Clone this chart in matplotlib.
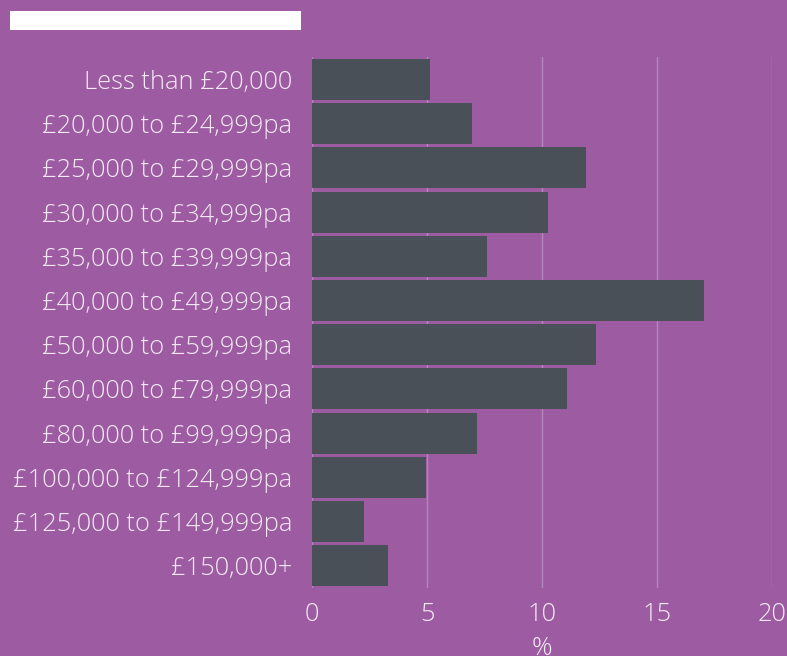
import matplotlib
matplotlib.use("Agg")
import matplotlib.pyplot as plt
from matplotlib.patches import Rectangle

categories = [
    "Less than £20,000",
    "£20,000 to £24,999pa",
    "£25,000 to £29,999pa",
    "£30,000 to £34,999pa",
    "£35,000 to £39,999pa",
    "£40,000 to £49,999pa",
    "£50,000 to £59,999pa",
    "£60,000 to £79,999pa",
    "£80,000 to £99,999pa",
    "£100,000 to £124,999pa",
    "£125,000 to £149,999pa",
    "£150,000+",
]
values = [5.13, 6.96, 11.91, 10.26, 7.61, 17.04, 12.35, 11.09, 7.17, 4.96, 2.26, 3.30]
xticks = [0, 5, 10, 15, 20]
xlabel = "%"

BG = "#9d5ca2"
BAR = "#4a5057"
GRID = "#b385b8"
TXT = "#f3eaf4"
FS = 18.3

plt.rcParams["font.family"] = ["Open Sans", "DejaVu Sans"]

fig = plt.figure(figsize=(7.87, 6.56), dpi=100, facecolor=BG)
W, H = 787, 656
ax = fig.add_axes([312 / W, 1 - 587.8 / H, 460 / W, 530.4 / H])
ax.set_facecolor(BG)

ypos = list(range(len(categories)))
ax.barh(ypos, values, height=0.93, color=BAR, zorder=3)
ax.set_ylim(len(categories) - 0.5, -0.5)
ax.set_xlim(0, 20)
ax.set_yticks(ypos)
ax.set_yticklabels(categories, fontsize=FS, color=TXT, fontweight="light")
ax.set_xticks(xticks)
ax.set_xticklabels([str(t) for t in xticks], fontsize=FS, color=TXT, fontweight="light")
ax.tick_params(axis="both", length=0)
ax.tick_params(axis="y", pad=14.4)
ax.tick_params(axis="x", pad=10.5)
ax.set_xlabel(xlabel, fontsize=FS, color=TXT, fontweight="light", labelpad=6)
ax.grid(axis="x", color=GRID, linewidth=1, zorder=0)
ax.grid(axis="y", visible=False)
for s in ax.spines.values():
    s.set_visible(False)

fig.patches.append(Rectangle((10 / W, 1 - 30 / H), 291 / W, 19 / H,
                             transform=fig.transFigure, facecolor="white",
                             edgecolor="none"))

fig.savefig("out.png", dpi=100, facecolor=BG)
